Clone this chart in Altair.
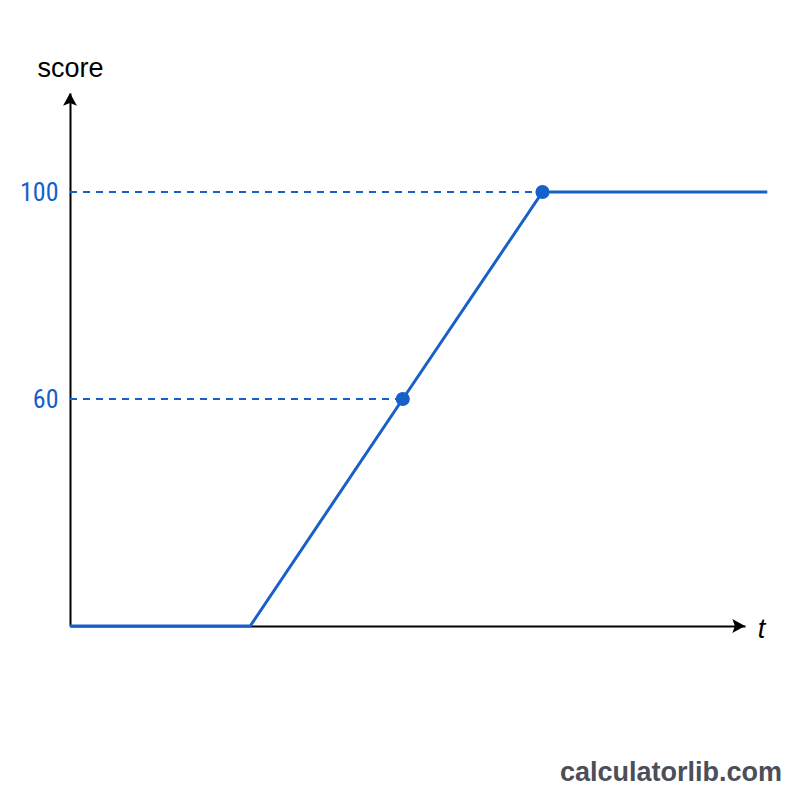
import altair as alt
import pandas as pd

# ---- data ----
t_vals = [0, 2.67, 4.93, 7.0, 10.33]
score_vals = [0, 0, 60, 100, 100]
mark_t = [4.93, 7.0]
mark_score = [60, 100]
y_ticks = [60, 100]
t_max = 10
score_top = 119
watermark = ["calculatorlib.com"]

BLUE = "#1660c8"

line_df = pd.DataFrame({"t": t_vals, "score": score_vals})
pts_df = pd.DataFrame({"t": mark_t, "score": mark_score, "t0": [0] * len(mark_t)})

xs = alt.Scale(domain=[0, t_max], range=[0, 675], nice=False, zero=False)
ys = alt.Scale(domain=[0, 60, 100, score_top], range=[533, 306, 99, 0], nice=False, zero=False)

x_axis = alt.Axis(
    title="t", labels=False, ticks=False, grid=False,
    domainColor="black", domainWidth=2,
    titleFont="Liberation Sans", titleFontSize=27, titleFontStyle="italic",
    titleFontWeight="normal", titleColor="black",
    titleX=691, titleY=11, titleAlign="center", titleBaseline="alphabetic",
)
y_axis = alt.Axis(
    title="score", values=y_ticks, ticks=False, grid=False,
    domainColor="black", domainWidth=2,
    labelFont="'Roboto Condensed', 'Liberation Sans Narrow', 'DejaVu Sans Condensed', Roboto",
    labelFontSize=26, labelColor=BLUE, labelPadding=12,
    titleAngle=0, titleX=0, titleY=-17, titleAlign="center", titleBaseline="alphabetic",
    titleFont="Liberation Sans", titleFontSize=27, titleFontWeight="normal", titleColor="black",
)


def X(field):
    return alt.X(f"{field}:Q", scale=xs, axis=x_axis, title="t")


def Y(field):
    return alt.Y(f"{field}:Q", scale=ys, axis=y_axis, title="score")


line = alt.Chart(line_df).mark_line(color=BLUE, strokeWidth=3).encode(
    x=X("t"), y=Y("score"),
)

dashes = alt.Chart(pts_df).mark_rule(color=BLUE, strokeWidth=2, strokeDash=[7, 6]).encode(
    x=X("t0"), x2="t:Q", y=Y("score"),
)

points = alt.Chart(pts_df).mark_circle(color=BLUE, size=200, opacity=1).encode(
    x=X("t"), y=Y("score"),
)

x_arrow = alt.Chart(pd.DataFrame({"t": [t_max], "score": [0]})).mark_point(
    shape="M0,0 L-2,-1.1 L-1.6,0 L-2,1.1 Z", filled=True, color="black", opacity=1, size=160
).encode(x=X("t"), y=Y("score"))

y_arrow = alt.Chart(pd.DataFrame({"t": [0], "score": [score_top]})).mark_point(
    shape="M0,0 L-1.1,2 L0,1.6 L1.1,2 Z", filled=True, color="black", opacity=1, size=160
).encode(x=X("t"), y=Y("score"))

wm = alt.Chart(pd.DataFrame({"label": watermark})).mark_text(
    align="right", baseline="alphabetic", font="Liberation Sans", fontSize=27,
    fontWeight="bold", color="#4a4f5a"
).encode(x=alt.value(712), y=alt.value(688), text="label:N")

chart = alt.layer(line, dashes, points, x_arrow, y_arrow, wm).properties(
    width=700, height=533,
    padding={"left": 62, "top": 85, "right": 22, "bottom": 166},
    autosize=alt.AutoSizeParams(type="none"),
    background="white",
).configure_view(stroke=None)

chart.save("out.html", embed_options={"renderer": "svg", "actions": False})
